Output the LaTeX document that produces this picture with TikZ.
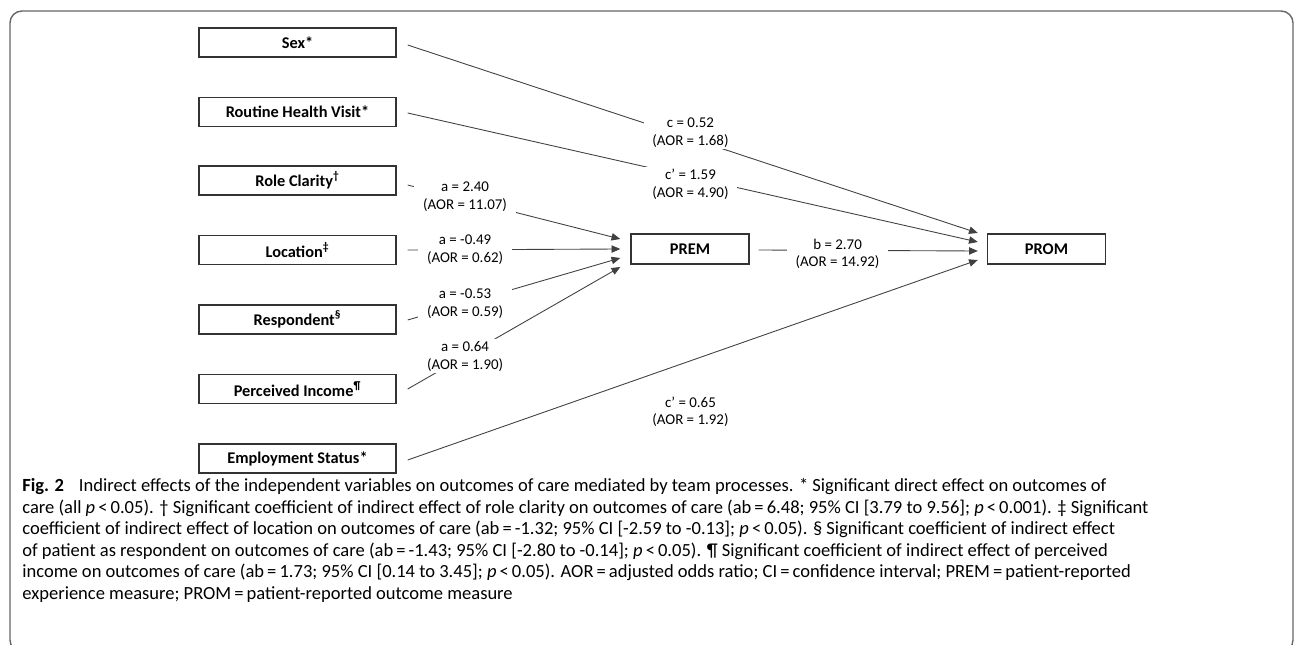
\documentclass[tikz,border=0pt]{standalone}
\usepackage{fontspec}
\setmainfont{Carlito}
\usetikzlibrary{arrows.meta, calc, positioning}

\newcommand{\pless}{\textit{p}\,<\,}
\newcommand{\eqs}{\,=\,}

\begin{document}
\begin{tikzpicture}[x=0.02cm, y=-0.02cm,
    var/.style={draw=black!80, line width=0.8pt, minimum width=3.94cm,
      minimum height=0.58cm, inner sep=0pt, font=\fontsize{9.3}{11}\selectfont\bfseries},
    med/.style={var, minimum width=2.36cm, minimum height=0.6cm},
    coef/.style={fill=white, inner xsep=5pt, inner ysep=1pt, align=center,
      font=\fontsize{8.5}{10.2}\selectfont},
    link/.style={draw=black!75, line width=0.5pt},
    into/.style={link, -{Triangle[length=5pt, width=4.2pt]}}]

  \useasboundingbox (0,0) rectangle (1295,645);
  \draw[black!60, line width=0.8pt, rounded corners=6.8pt] (10,11) rectangle (1293,652);

  % predictors
  \node[var] (sex)    at (297.5,42.5)  {Sex*};
  \node[var] (visit)  at (297.5,112)   {Routine Health Visit*};
  \node[var] (role)   at (297.5,180.5) {Role Clarity\textsuperscript{†}};
  \node[var] (loc)    at (297.5,250)   {Location\textsuperscript{‡}};
  \node[var] (resp)   at (297.5,319.5) {Respondent\textsuperscript{§}};
  \node[var] (income) at (297.5,389)   {Perceived Income\textsuperscript{¶}};
  \node[var] (employ) at (297.5,458.5) {Employment Status*};

  % mediator and outcome
  \node[med] (prem) at (690,249)    {PREM};
  \node[med] (prom) at (1046.5,249) {PROM};

  % a paths
  \draw[into] ($(role.east)+(11,4.5)$) -- node[coef, pos=0.27, yshift=1.7pt]
    {a = 2.40\\(AOR = 11.07)} ($(prem.west)+(-10,-10)$);
  \draw[into] ($(loc.east)+(11,0)$) -- node[coef, pos=0.27]
    {a = -0.49\\(AOR = 0.62)} ($(prem.west)+(-10,0)$);
  \draw[into] ($(resp.east)+(11,0.5)$) -- node[coef, pos=0.27]
    {a = -0.53\\(AOR = 0.59)} ($(prem.west)+(-10,9)$);
  \draw[into] ($(income.east)+(11,0)$) -- node[coef, pos=0.27]
    {a = 0.64\\(AOR = 1.90)} ($(prem.west)+(-10,18)$);

  % b path
  \draw[into] ($(prem.east)+(9,1)$) -- node[coef, pos=0.36, yshift=-2pt]
    {b = 2.70\\(AOR = 14.92)} ($(prom.west)+(-9,2)$);

  % direct paths
  \draw[into] ($(sex.east)+(11,2.5)$) -- node[coef, pos=0.496, yshift=3.4pt]
    {c = 0.52\\(AOR = 1.68)} ($(prom.west)+(-9,-16)$);
  \draw[into] ($(visit.east)+(11,1)$) -- node[coef, pos=0.496, yshift=-4pt]
    {c’ = 1.59\\(AOR = 4.90)} ($(prom.west)+(-9,-7)$);
  \draw[into] ($(employ.east)+(11,1.5)$) -- node[coef, fill=none, pos=0.496, yshift=-29pt]
    {c’ = 0.65\\(AOR = 1.92)} ($(prom.west)+(-9,11)$);

  % caption
  \node[anchor=north west, inner sep=0pt, align=left,
    font=\fontsize{10.55}{12.25}\selectfont] (caption) at (22,478)
    {\textbf{Fig. 2}\hspace{0.8em}Indirect effects of the independent variables on outcomes of care mediated by team processes. * Significant direct effect on outcomes of\\
     care (all \pless0.05). † Significant coefficient of indirect effect of role clarity on outcomes of care (ab\eqs6.48; 95\% CI [3.79 to 9.56]; \pless0.001). ‡ Significant\\
     coefficient of indirect effect of location on outcomes of care (ab\eqs-1.32; 95\% CI [-2.59 to -0.13]; \pless0.05). § Significant coefficient of indirect effect\\
     of patient as respondent on outcomes of care (ab\eqs-1.43; 95\% CI [-2.80 to -0.14]; \pless0.05). ¶ Significant coefficient of indirect effect of perceived\\
     income on outcomes of care (ab\eqs1.73; 95\% CI [0.14 to 3.45]; \pless0.05). AOR\eqs adjusted odds ratio; CI\eqs confidence interval; PREM\eqs patient-reported\\
     experience measure; PROM\eqs patient-reported outcome measure};

\end{tikzpicture}
\end{document}
